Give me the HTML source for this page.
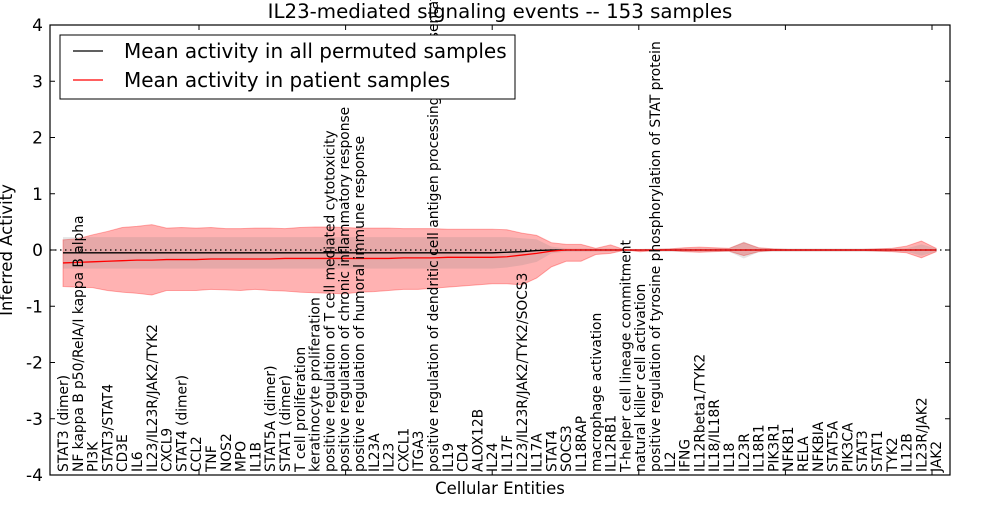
<!DOCTYPE html>
<html><head><meta charset="utf-8"><style>
body{margin:0;background:#fff;}
svg text{font-family:"DejaVu Sans","Liberation Sans",sans-serif;}
</style></head><body>
<svg id="chart" width="1000" height="500" xmlns="http://www.w3.org/2000/svg">
<rect width="1000" height="500" fill="#fff"/>
<text x="500" y="18" text-anchor="middle" font-size="19.8">IL23-mediated signaling events -- 153 samples</text>
<g id="bands"></g>
<g id="lines"></g>
<g id="xlabels"></g>
<g id="axes"></g>
<text transform="translate(12,250) rotate(-90)" text-anchor="middle" font-size="16.5">Inferred Activity</text>
<text x="500" y="494" text-anchor="middle" font-size="16.5">Cellular Entities</text>
<g>
<rect x="60" y="35" width="455" height="64" fill="#fff" stroke="#000" stroke-width="1"/>
<line x1="73" y1="51" x2="103" y2="51" stroke="#000" stroke-width="1.3"/>
<text x="124" y="58" font-size="20">Mean activity in all permuted samples</text>
<line x1="73" y1="80" x2="103" y2="80" stroke="#f00" stroke-width="1.3"/>
<text x="124" y="87" font-size="20">Mean activity in patient samples</text>
</g>
</svg>
<script>
const categories=["STAT3 (dimer)","NF kappa B p50/RelA/I kappa B alpha","PI3K","STAT3/STAT4","CD3E","IL6","IL23/IL23R/JAK2/TYK2","CXCL9","STAT4 (dimer)","CCL2","TNF","NOS2","MPO","IL1B","STAT5A (dimer)","STAT1 (dimer)","T cell proliferation","keratinocyte proliferation","positive regulation of T cell mediated cytotoxicity","positive regulation of chronic inflammatory response","positive regulation of humoral immune response","IL23A","IL23","CXCL1","ITGA3","positive regulation of dendritic cell antigen processing and presentation","IL19","CD4","ALOX12B","IL24","IL17F","IL23/IL23R/JAK2/TYK2/SOCS3","IL17A","STAT4","SOCS3","IL18RAP","macrophage activation","IL12RB1","T-helper cell lineage commitment","natural killer cell activation","positive regulation of tyrosine phosphorylation of STAT protein","IL2","IFNG","IL12Rbeta1/TYK2","IL18/IL18R","IL18","IL23R","IL18R1","PIK3R1","NFKB1","RELA","NFKBIA","STAT5A","PIK3CA","STAT3","STAT1","TYK2","IL12B","IL23R/JAK2","JAK2"];
const patientMean=[-0.23,-0.22,-0.21,-0.2,-0.19,-0.18,-0.18,-0.17,-0.17,-0.17,-0.16,-0.16,-0.16,-0.16,-0.16,-0.15,-0.15,-0.15,-0.15,-0.15,-0.15,-0.15,-0.15,-0.14,-0.14,-0.14,-0.13,-0.13,-0.13,-0.13,-0.12,-0.09,-0.06,-0.02,0,0,0,0,0,0,0,0,0,0,0,0,0,0,0,0,0,0,0,0,0,0,0,0,0,0];
const patientUpper=[0.18,0.2,0.27,0.33,0.4,0.42,0.45,0.39,0.4,0.39,0.4,0.38,0.38,0.39,0.39,0.38,0.4,0.41,0.41,0.4,0.39,0.39,0.39,0.38,0.38,0.38,0.37,0.37,0.37,0.37,0.36,0.3,0.26,0.13,0.1,0.1,0.03,0.09,0,0,0.01,0.02,0.04,0.05,0.04,0.03,0.13,0.04,0.02,0.01,0.01,0.01,0.01,0.01,0.01,0.02,0.03,0.07,0.16,0.03];
const patientLower=[-0.65,-0.66,-0.67,-0.72,-0.75,-0.77,-0.8,-0.72,-0.72,-0.72,-0.7,-0.71,-0.72,-0.7,-0.72,-0.73,-0.75,-0.76,-0.77,-0.78,-0.75,-0.74,-0.72,-0.7,-0.7,-0.68,-0.66,-0.64,-0.62,-0.6,-0.6,-0.62,-0.5,-0.3,-0.2,-0.2,-0.08,-0.06,0,-0.03,-0.01,-0.01,-0.03,-0.04,-0.03,-0.02,-0.1,-0.03,-0.01,-0.01,-0.01,-0.01,-0.01,-0.01,-0.01,-0.02,-0.03,-0.05,-0.14,-0.03];
const permutedMean=[-0.05,-0.05,-0.05,-0.05,-0.05,-0.05,-0.05,-0.05,-0.05,-0.05,-0.05,-0.05,-0.05,-0.05,-0.05,-0.05,-0.05,-0.05,-0.05,-0.05,-0.05,-0.05,-0.05,-0.05,-0.05,-0.05,-0.05,-0.05,-0.05,-0.05,-0.04,-0.03,-0.01,0,0,0,0,0,0,0,0,0,0,0,0,0,0,0,0,0,0,0,0,0,0,0,0,0,0,0];
const permutedSpread=[0.28,0.28,0.28,0.28,0.28,0.28,0.28,0.28,0.28,0.28,0.28,0.28,0.28,0.28,0.28,0.28,0.28,0.28,0.28,0.28,0.28,0.28,0.28,0.28,0.28,0.28,0.28,0.28,0.28,0.28,0.27,0.24,0.2,0.06,0.03,0.03,0.03,0.03,0.02,0.02,0.03,0.03,0.03,0.03,0.03,0.03,0.15,0.04,0.03,0.03,0.03,0.03,0.03,0.03,0.03,0.03,0.03,0.03,0.1,0.03];
const yTicks=[-4,-3,-2,-1,0,1,2,3,4];
const xTicks=[10,20,30,40,50,60];

const L=50,R=950,T=25,B=475;
const x=i=>63+14.8*i;
const y=v=>250-v*56.25;
const NS="http://www.w3.org/2000/svg";
function mk(tag,attrs,parent){const e=document.createElementNS(NS,tag);for(const k in attrs)e.setAttribute(k,attrs[k]);parent.appendChild(e);return e;}
const bands=document.getElementById('bands'),lines=document.getElementById('lines'),xl=document.getElementById('xlabels'),axes=document.getElementById('axes');
function bandPath(up,lo){let d="";up.forEach((v,i)=>{d+=(i?"L":"M")+x(i)+","+y(v);});for(let i=lo.length-1;i>=0;i--)d+="L"+x(i)+","+y(lo[i]);return d+"Z";}
const pb=mk('path',{d:bandPath(patientUpper,patientLower),fill:"#ff0000","fill-opacity":"0.3",stroke:"#ff0000","stroke-opacity":"0.3"},bands);


const gb=mk('path',{d:bandPath(permutedMean.map((m,i)=>m+permutedSpread[i]),permutedMean.map((m,i)=>m-permutedSpread[i])),fill:"#808080","fill-opacity":"0.2",stroke:"none"},bands);


const zl=mk('line',{x1:L,x2:R,y1:y(0),y2:y(0),stroke:"#000","stroke-dasharray":"1.5,3.5","stroke-width":"1.3"},lines);


function linePath(a){return a.map((v,i)=>(i?"L":"M")+x(i)+","+y(v)).join("");}
const bl=mk('path',{d:linePath(permutedMean),fill:"none",stroke:"#000","stroke-width":"1.3"},lines);


const rl=mk('path',{d:linePath(patientMean),fill:"none",stroke:"#f00","stroke-width":"1.3"},lines);


categories.forEach((c,i)=>{
  const t=mk('text',{transform:"translate("+(x(i)+5)+",472) rotate(-90)","font-size":"13.8"},xl);
  
  
  t.textContent=c;
});
const box=mk('rect',{x:L,y:T,width:R-L,height:B-T,fill:"none",stroke:"#000","stroke-width":"1.2"},axes);


yTicks.forEach(v=>{
  mk('line',{x1:L,x2:L+5,y1:y(v),y2:y(v),stroke:"#000"},axes);
  mk('line',{x1:R,x2:R-5,y1:y(v),y2:y(v),stroke:"#000"},axes);
  const t=mk('text',{x:L-7,y:y(v)+6,"text-anchor":"end","font-size":"17"},axes);
  
  
  t.textContent=v;
});
xTicks.forEach(v=>{
  const px=52.4+14.66*v;
  if(px>=R)return;
  mk('line',{x1:px,x2:px,y1:T,y2:T+5,stroke:"#000"},axes);
  mk('line',{x1:px,x2:px,y1:B,y2:B-5,stroke:"#000"},axes);
});
</script>
</body></html>
